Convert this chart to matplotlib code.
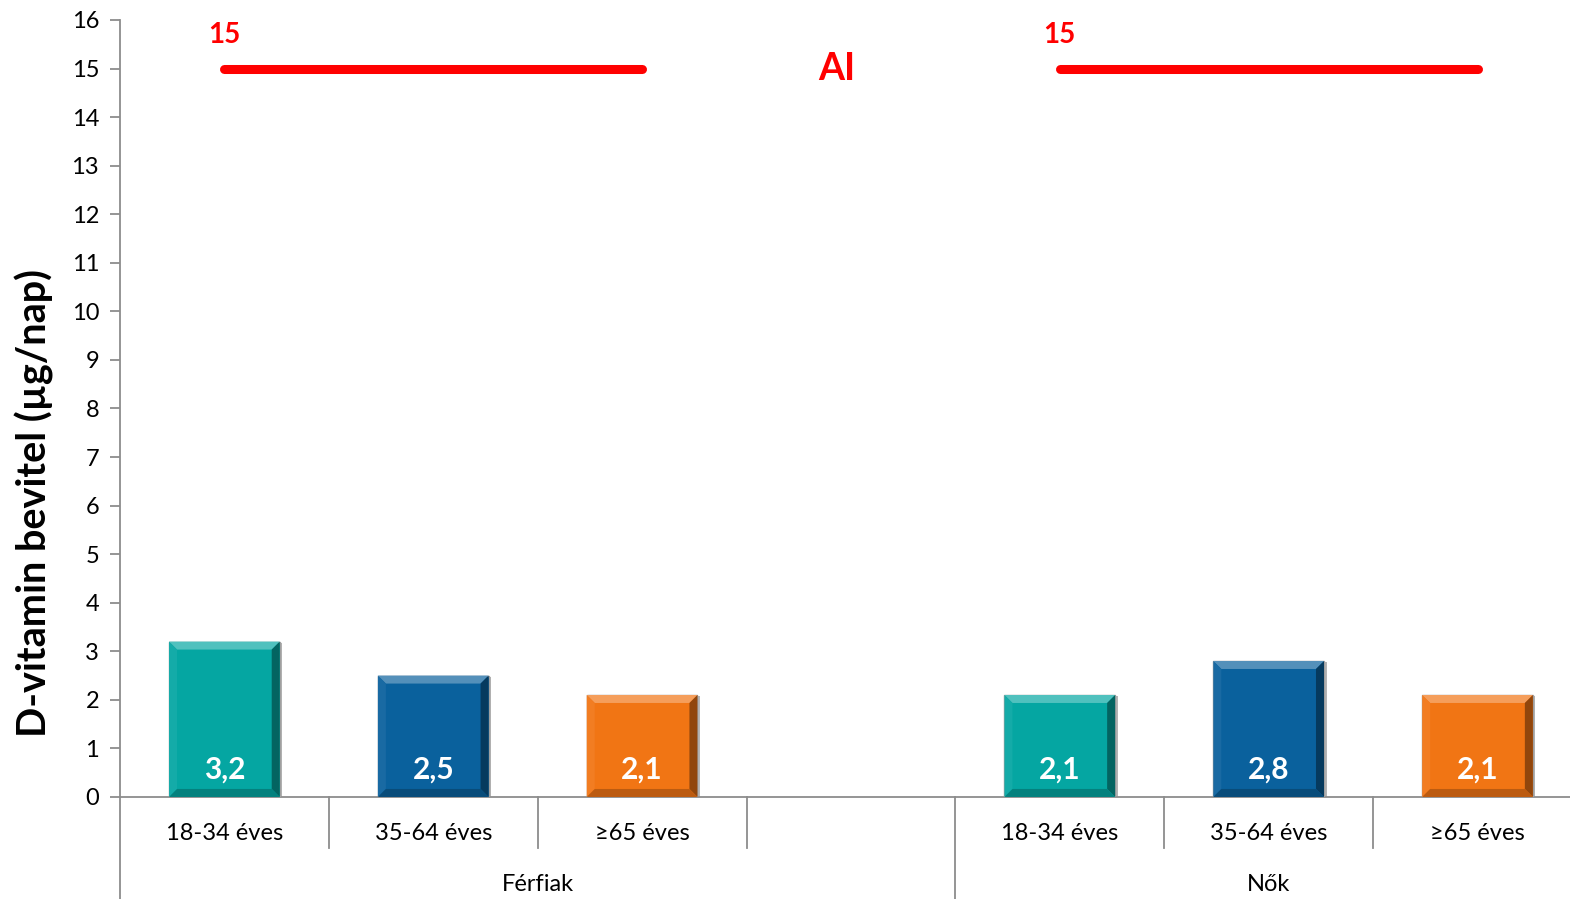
"""D-vitamin intake by sex and age group, with the AI reference line."""

import matplotlib.pyplot as plt
from matplotlib.patches import Polygon
import numpy as np

plt.rcParams["font.family"] = ["Lato", "DejaVu Sans"]

GROUPS = ["Férfiak", "Nők"]
AGE_GROUPS = ["18-34 éves", "35-64 éves", "≥65 éves"]
MEN = [3.2, 2.5, 2.1]
WOMEN = [2.1, 2.8, 2.1]
AI_VALUE = 15
AI_LABEL = "AI"
Y_LABEL = "D-vitamin bevitel (µg/nap)"

COLORS = ["#05A6A2", "#0A619D", "#F17514"]
RED = "#FF0000"
AXIS_GREY = "#8C8C8C"


def shade(hex_color, factor):
    rgb = np.array([int(hex_color[i:i + 2], 16) for i in (1, 3, 5)]) / 255.0
    if factor > 1:
        rgb = rgb + (1 - rgb) * (factor - 1)
    else:
        rgb = rgb * factor
    return tuple(np.clip(rgb, 0, 1))


# slot layout: three men's categories, one empty gap slot, three women's
slots = AGE_GROUPS + [""] + AGE_GROUPS
values = MEN + [np.nan] + WOMEN
colors = COLORS + [COLORS[0]] + COLORS
x = np.arange(len(slots))

fig = plt.figure(figsize=(15.7, 8.99), dpi=100)
ax = fig.add_axes([0.0764, 0.1135, 0.9312, 0.8643])
ax.set_xlim(-0.5, len(slots) - 0.5)
ax.set_ylim(0, 16)

bar_w = 0.53
ax_w_px = 0.9312 * 1570
ax_h_px = 0.8643 * 899
dx = 8 / (ax_w_px / len(slots))
dy = 8 / (ax_h_px / 16)

for xi, v, c in zip(x, values, colors):
    if np.isnan(v):
        continue
    x0, x1 = xi - bar_w / 2, xi + bar_w / 2
    # soft drop shadow
    ax.bar(xi + 0.012, v, width=bar_w, bottom=-0.03, color="#B5B5B5", zorder=2)
    ax.bar(xi, v, width=bar_w, color=c, edgecolor="#A0A0A0", linewidth=1.0, zorder=3)
    bevels = [
        ([(x0, v), (x1, v), (x1 - dx, v - dy), (x0 + dx, v - dy)], shade(c, 1.3)),
        ([(x0, 0), (x0, v), (x0 + dx, v - dy), (x0 + dx, dy)], shade(c, 1.06)),
        ([(x1, 0), (x1, v), (x1 - dx, v - dy), (x1 - dx, dy)], shade(c, 0.6)),
        ([(x0, 0), (x1, 0), (x1 - dx, dy), (x0 + dx, dy)], shade(c, 0.78)),
    ]
    for pts, fc in bevels:
        ax.add_patch(Polygon(pts, closed=True, facecolor=fc, edgecolor="none", zorder=4))
    ax.text(xi, 0.56, f"{v:.1f}".replace(".", ","), ha="center", va="center",
            fontsize=21.5, fontweight="bold", color="white", zorder=5)

# AI reference lines over each sex group
for g in range(len(GROUPS)):
    start = g * 4
    ax.plot([x[start], x[start + 2]], [AI_VALUE, AI_VALUE], color=RED,
            linewidth=6.5, solid_capstyle="round", zorder=5)
    ax.text(x[start], AI_VALUE + 0.7, str(AI_VALUE), ha="center", va="center",
            fontsize=20, fontweight="bold", color=RED)
ax.text(x[3] - 0.07, AI_VALUE, AI_LABEL, ha="center", va="center",
        fontsize=27, fontweight="bold", color=RED)

# axes styling
for side in ("top", "right"):
    ax.spines[side].set_visible(False)
for side in ("left", "bottom"):
    ax.spines[side].set_color(AXIS_GREY)
    ax.spines[side].set_linewidth(1.3)
ax.set_yticks(np.arange(0, 17, 1))
ax.tick_params(axis="y", labelsize=17, length=7, width=1.3, color=AXIS_GREY, pad=8)
ax.set_xticks([])
fig.text(34 / 1570, 1 - 503 / 899, Y_LABEL, rotation=90, ha="center", va="center",
         fontsize=28.5, fontweight="bold")

# two-level category axis
sep_short = -51 / ax_h_px
sep_long = -110 / ax_h_px
xtrans = ax.get_xaxis_transform()
for b in range(len(slots) + 1):
    xb = b - 0.5
    y_end = sep_long if b in (0, 4, len(slots)) else sep_short
    ax.plot([xb, xb], [0, y_end], color=AXIS_GREY, linewidth=1.3,
            transform=xtrans, clip_on=False)
for xi, lab in zip(x, slots):
    ax.text(xi, -37 / ax_h_px, lab, transform=xtrans, ha="center", va="center",
            fontsize=17)
ax.text(1.5, -88 / ax_h_px, GROUPS[0], transform=xtrans, ha="center", va="center",
        fontsize=17)
ax.text(5.0, -88 / ax_h_px, GROUPS[1], transform=xtrans, ha="center", va="center",
        fontsize=17)

fig.savefig("out.png", dpi=100)
